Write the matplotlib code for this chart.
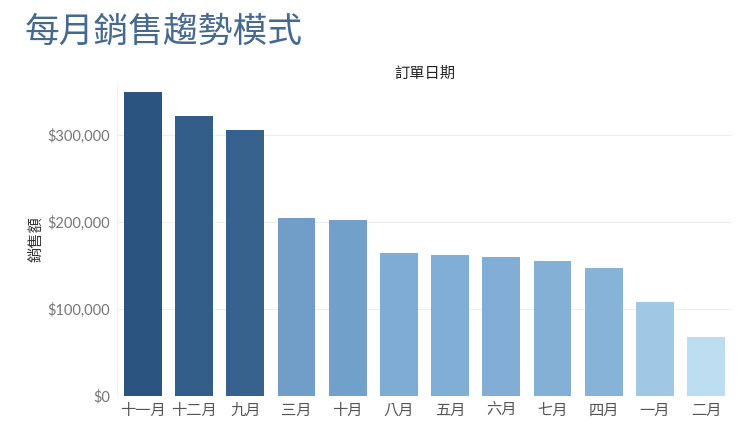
import matplotlib
matplotlib.use('Agg')
import matplotlib.pyplot as plt
from matplotlib.colors import LinearSegmentedColormap, Normalize
from matplotlib.ticker import FuncFormatter

plt.rcParams['font.family'] = ['Noto Sans CJK TC', 'DejaVu Sans']

# 資料
months = ['十一月', '十二月', '九月', '三月', '十月', '八月',
          '五月', '六月', '七月', '四月', '一月', '二月']
sales = [350000, 322000, 306000, 205000, 202000, 165000,
         162000, 160000, 155000, 147000, 108000, 68000]
yticks = [0, 100000, 200000, 300000]

title = '每月銷售趨勢模式'
x_title = '訂單日期'
y_title = '銷售額'

cmap = LinearSegmentedColormap.from_list(
    'blues', ['#bcdcf0', '#8ab6da', '#6e9dc8', '#3f6b96', '#2b5580'])
norm = Normalize(vmin=min(sales), vmax=max(sales))

fig = plt.figure(figsize=(7.54, 4.44), dpi=100)
ax = fig.add_axes([0.155, 0.108, 0.816, 0.705])

x = range(len(months))
ax.bar(x, sales, width=0.74, color=[cmap(norm(v)) for v in sales], zorder=3)

ax.set_xlim(-0.51, len(months) - 0.49)
ax.set_ylim(0, 360000)
ax.set_yticks(yticks)
ax.yaxis.set_major_formatter(FuncFormatter(lambda v, p: '${:,.0f}'.format(v)))
ax.set_xticks(list(x))
ax.set_xticklabels(months)
for lab in ax.get_yticklabels():
    lab.set_family(['Lato', 'DejaVu Sans'])

ax.grid(axis='y', color='#eeeeee', linewidth=0.8, zorder=0)
for s in ['top', 'right', 'bottom']:
    ax.spines[s].set_visible(False)
ax.spines['left'].set_color('#f2f2f2')
ax.axhline(0, color='#f3ecea', linewidth=0.8, zorder=2)
ax.tick_params(axis='both', length=0, colors='#777777', labelsize=11)
ax.tick_params(axis='y', pad=5, labelsize=10.5)
ax.tick_params(axis='x', pad=4, labelcolor='#555555')

ax.set_ylabel(y_title, fontsize=11, color='#333333', labelpad=2)
ax.set_title(x_title, fontsize=11, color='#222222', pad=4)

fig.text(0.033, 0.928, title, fontsize=25, color='#45698f', va='center', ha='left')

fig.savefig('out.png', dpi=100, facecolor='white')
